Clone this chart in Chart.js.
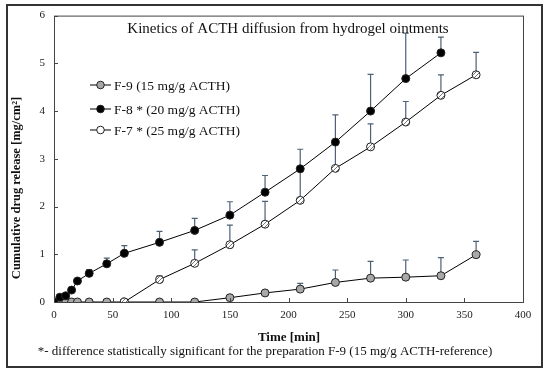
<!DOCTYPE html>
<html>
<head>
<meta charset="utf-8">
<script src="https://cdn.jsdelivr.net/npm/chart.js@4.4.1/dist/chart.umd.min.js"></script>
<style>
  html, body { margin: 0; padding: 0; background: #fff; }
  #chart { display: block; }
</style>
</head>
<body>
<canvas id="chart" width="550" height="375"></canvas>
<script>
// time points [min] and cumulative release [mg/cm2], upper SD
const timeF9 = [0, 5, 10, 15, 20, 30, 45, 60, 90, 120, 150, 180, 210, 240, 270, 300, 330, 360];
const valF9 = [0, 0, 0, 0, 0, 0, 0, 0, 0, 0, 0.09, 0.19, 0.27, 0.41, 0.5, 0.52, 0.55, 0.99];
const errF9 = [0, 0, 0, 0, 0, 0, 0, 0, 0, 0, 0, 0, 0.12, 0.26, 0.35, 0.36, 0.38, 0.28];

const timeF8 = [0, 5, 10, 15, 20, 30, 45, 60, 90, 120, 150, 180, 210, 240, 270, 300, 330];
const valF8 = [0, 0.1, 0.13, 0.25, 0.44, 0.6, 0.8, 1.02, 1.25, 1.5, 1.82, 2.3, 2.79, 3.35, 4.0, 4.68, 5.22];
const errF8 = [0, 0, 0, 0, 0, 0.08, 0.12, 0.16, 0.23, 0.25, 0.28, 0.35, 0.41, 0.57, 0.77, 0.95, 0.33];

const timeF7 = [60, 90, 120, 150, 180, 210, 240, 270, 300, 330, 360];
const valF7 = [0, 0.47, 0.81, 1.2, 1.63, 2.13, 2.8, 3.25, 3.77, 4.33, 4.76];
const errF7 = [0, 0.08, 0.28, 0.41, 0.48, 0.7, 0.6, 0.48, 0.43, 0.43, 0.47];

const legendLabels = ['F-9 (15 mg/g ACTH)', 'F-8 * (20 mg/g ACTH)', 'F-7 * (25 mg/g ACTH)'];
const xTicks = [0, 50, 100, 150, 200, 250, 300, 350, 400];
const yTicks = [0, 1, 2, 3, 4, 5, 6];

const serif = '"Liberation Serif", "DejaVu Serif", serif';

// hatched fill for the F-7 markers
function hatch() {
  const c = document.createElement('canvas');
  c.width = 4; c.height = 4;
  const g = c.getContext('2d');
  g.fillStyle = '#fff';
  g.fillRect(0, 0, 4, 4);
  g.strokeStyle = '#777';
  g.lineWidth = 1;
  g.beginPath();
  g.moveTo(0, 4); g.lineTo(4, 0);
  g.stroke();
  return g.createPattern(c, 'repeat');
}
const hatchFill = hatch();

const toPts = (xs, ys) => xs.map((x, i) => ({ x: x, y: ys[i] }));

const series = [
  { label: legendLabels[0], data: toPts(timeF9, valF9), err: errF9, fill: '#a8a8a8', order: 2 },
  { label: legendLabels[1], data: toPts(timeF8, valF8), err: errF8, fill: '#000', order: 0 },
  { label: legendLabels[2], data: toPts(timeF7, valF7), err: errF7, fill: hatchFill, order: 1 }
];

const errorBars = {
  id: 'errorBars',
  beforeDatasetsDraw(chart) {
    const ctx = chart.ctx, xs = chart.scales.x, ys = chart.scales.y;
    ctx.save();
    ctx.strokeStyle = '#4d6176';
    ctx.lineWidth = 1.2;
    series.forEach(s => {
      s.data.forEach((p, i) => {
        const e = s.err[i];
        if (!e) return;
        const px = xs.getPixelForValue(p.x);
        const y0 = ys.getPixelForValue(p.y);
        const y1 = ys.getPixelForValue(p.y + e);
        ctx.beginPath();
        ctx.moveTo(px, y0); ctx.lineTo(px, y1);
        ctx.moveTo(px - 3, y1); ctx.lineTo(px + 3, y1);
        ctx.stroke();
      });
    });
    ctx.restore();
  }
};

const frame = {
  id: 'frame',
  afterDraw(chart) {
    const ctx = chart.ctx, a = chart.chartArea, xs = chart.scales.x, ys = chart.scales.y;
    ctx.save();
    // plot box
    ctx.strokeStyle = '#444';
    ctx.lineWidth = 1;
    ctx.strokeRect(a.left + 0.5, a.top + 0.5, a.right - a.left, a.bottom - a.top);
    // inward ticks
    ctx.beginPath();
    xTicks.forEach(v => {
      const px = Math.round(xs.getPixelForValue(v)) + 0.5;
      ctx.moveTo(px, a.bottom); ctx.lineTo(px, a.bottom - 4);
    });
    yTicks.forEach(v => {
      const py = Math.round(ys.getPixelForValue(v)) + 0.5;
      ctx.moveTo(a.left, py); ctx.lineTo(a.left + 4, py);
    });
    ctx.stroke();
    // outer frame
    ctx.strokeStyle = '#333';
    ctx.lineWidth = 2;
    ctx.strokeRect(7, 5, 535, 362);

    ctx.fillStyle = '#111';
    ctx.textBaseline = 'middle';
    ctx.textAlign = 'center';
    ctx.font = '15px ' + serif;
    ctx.fillText('Kinetics of ACTH diffusion from hydrogel ointments', 288, 29);

    ctx.font = 'bold 13px ' + serif;
    ctx.fillText('Time [min]', 289, 338);
    ctx.font = '13px ' + serif;
    ctx.fillText('*- difference statistically significant for the preparation F-9 (15 mg/g ACTH-reference)', 265, 352);

    ctx.save();
    ctx.translate(17, 188);
    ctx.rotate(-Math.PI / 2);
    ctx.font = 'bold 12.5px ' + serif;
    ctx.fillText('Cumulative drug release [mg/cm\u00B2]', 0, 0);
    ctx.restore();

    // legend
    const rows = [85, 109, 130];
    series.forEach((s, i) => {
      const y = rows[i];
      ctx.strokeStyle = '#000';
      ctx.lineWidth = 1;
      ctx.beginPath();
      ctx.moveTo(90, y); ctx.lineTo(111, y);
      ctx.stroke();
      ctx.beginPath();
      ctx.arc(100.5, y, 3.8, 0, Math.PI * 2);
      ctx.fillStyle = i === 2 ? '#fff' : s.fill;
      ctx.fill();
      ctx.strokeStyle = '#222';
      ctx.stroke();
      ctx.fillStyle = '#111';
      ctx.textAlign = 'left';
      ctx.font = '13.5px ' + serif;
      ctx.fillText(s.label, 114, y + 1);
    });
    ctx.restore();
  }
};

new Chart(document.getElementById('chart').getContext('2d'), {
  type: 'line',
  data: {
    datasets: series.map(s => ({
      label: s.label,
      data: s.data,
      order: s.order,
      borderColor: '#000',
      borderWidth: 1,
      pointRadius: 4,
      pointBorderWidth: 1,
      pointBorderColor: '#222',
      pointBackgroundColor: s.fill,
      tension: 0,
      fill: false
    }))
  },
  options: {
    responsive: false,
    animation: false,
    devicePixelRatio: 1,
    layout: { padding: { top: 13, right: 27, left: 0, bottom: 0 } },
    plugins: { legend: { display: false }, tooltip: { enabled: false } },
    scales: {
      x: {
        type: 'linear', min: 0, max: 400,
        afterFit: s => { s.height = 73; },
        grid: { display: false, drawTicks: false },
        border: { display: false },
        ticks: { stepSize: 50, padding: 7, color: '#222', font: { family: serif, size: 11 }, maxRotation: 0 }
      },
      y: {
        min: 0, max: 6,
        afterFit: s => { s.width = 54; },
        grid: { display: false, drawTicks: false },
        border: { display: false },
        ticks: { stepSize: 1, padding: 9, color: '#222', font: { family: serif, size: 11 } }
      }
    }
  },
  plugins: [errorBars, frame]
});
</script>
</body>
</html>
